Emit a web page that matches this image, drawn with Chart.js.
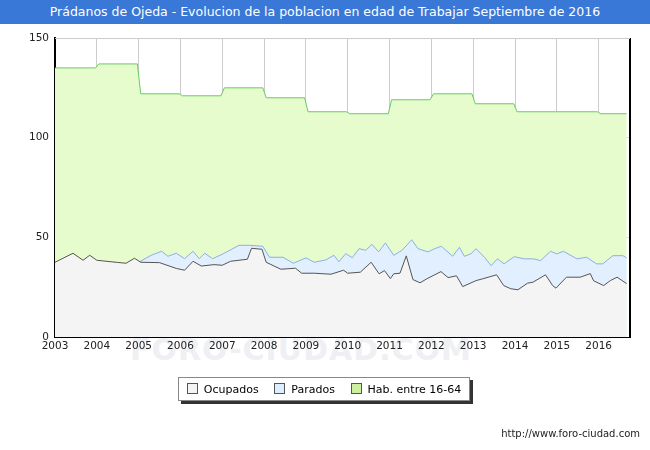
<!DOCTYPE html><html><head><meta charset="utf-8">
<script src="https://cdn.jsdelivr.net/npm/chart.js@4"></script>
<style>
body{margin:0;width:650px;height:450px;background:#fff;font-family:Verdana,"DejaVu Sans",sans-serif;position:relative;overflow:hidden}
#t{position:absolute;left:0;top:0;width:650px;height:24px;background:#3a78d8;color:#fff;font-size:12.5px;line-height:24px;text-align:center}
#c{position:absolute;left:0;top:0}
#wm{position:absolute;left:130px;top:332px;font-size:30px;color:#eef0f4;letter-spacing:1px;font-weight:bold}
#lg{position:absolute;left:178px;top:377px;width:290px;height:22px;border:1px solid #888;background:#fff;box-shadow:3px 3px 0 #333;font-size:11px;display:flex;align-items:center;justify-content:space-around}
.sw{display:inline-block;width:9px;height:9px;border:1px solid #555;margin-right:6px;vertical-align:-1px}
#u{position:absolute;right:10px;top:428px;font-size:10px;color:#222}
</style></head><body>
<div id="wm">FORO-CIUDAD.COM</div>
<canvas id="c" width="650" height="450"></canvas>
<div id="t">Prádanos de Ojeda - Evolucion de la poblacion en edad de Trabajar Septiembre de 2016</div>
<div id="lg"><span><span class="sw" style="background:#f4f4f4"></span>Ocupados</span><span><span class="sw" style="background:#ddeeff"></span>Parados</span><span><span class="sw" style="background:#ccf0a0"></span>Hab. entre 16-64</span></div>
<div id="u">http://www.foro-ciudad.com</div>
<script>
const ocuX=[2003.0,2003.43,2003.67,2003.83,2004.0,2004.5,2004.7,2004.9,2005.05,2005.5,2005.9,2006.1,2006.3,2006.5,2006.8,2007.0,2007.2,2007.6,2007.7,2007.95,2008.05,2008.4,2008.75,2008.9,2009.2,2009.6,2009.9,2010.0,2010.3,2010.56,2010.75,2010.88,2011.02,2011.1,2011.25,2011.4,2011.56,2011.73,2011.9,2012.23,2012.4,2012.6,2012.75,2013.07,2013.23,2013.56,2013.73,2013.9,2014.07,2014.3,2014.43,2014.73,2014.9,2014.98,2015.23,2015.56,2015.8,2015.88,2016.12,2016.28,2016.44,2016.67];
const ocuY=[37.5,42,38.5,41,38.5,37.4,37,39.5,37.5,37.3,34.4,33.5,38,35.6,36.3,36,38,39,44.5,44,37.5,34,34.5,32,32,31.5,33.5,32,32.5,37.5,31.7,33.3,29.3,31.7,32,40.7,28.8,27.2,29.3,32.8,29.8,30.7,25.3,28.3,29.2,31.2,25.8,24.2,23.7,27,27.5,31.2,25.8,24.5,30,30,31.8,28.2,25.8,28.3,30,26.8];
const parX=[2005.0,2005.3,2005.55,2005.7,2005.9,2006.1,2006.3,2006.45,2006.58,2006.77,2007.0,2007.4,2007.65,2007.97,2008.13,2008.45,2008.7,2009.0,2009.2,2009.48,2009.67,2009.79,2009.95,2010.11,2010.27,2010.43,2010.58,2010.74,2010.9,2011.1,2011.3,2011.53,2011.68,2011.92,2012.08,2012.24,2012.51,2012.67,2012.79,2012.95,2013.07,2013.27,2013.43,2013.58,2013.74,2013.98,2014.22,2014.45,2014.61,2014.85,2015.0,2015.16,2015.48,2015.71,2015.95,2016.1,2016.34,2016.58,2016.67];
const parY=[37.5,41,43,40.5,42,39.3,43,39.3,42,39.3,41.5,46,46,45.5,40,40,37,39.7,37.5,38.7,41,37.7,41.8,39.8,44.3,43.5,46.5,42.7,47.2,41,43.5,48.8,44.3,42.7,44.3,45.5,40.5,45,40.5,41.8,44.3,40,35.8,39.2,36.7,40.3,39.2,39.2,38.3,43,41.7,43,39.2,40,36.7,36.7,40.8,40.8,39.7];
const habX=[2003.0,2003.97,2004.05,2004.97,2005.05,2005.97,2006.05,2006.97,2007.05,2007.97,2008.05,2008.97,2009.05,2009.97,2010.05,2010.97,2011.05,2011.97,2012.05,2012.97,2013.05,2013.97,2014.05,2014.97,2015.05,2015.97,2016.05,2016.67];
const habY=[135,135,137,137,122,122,121,121,125,125,120,120,113,113,112,112,119,119,122,122,117,117,113,113,113,113,112,112];
const yearTicks=[2003,2004,2005,2006,2007,2008,2009,2010,2011,2012,2013,2014,2015,2016];
const pts=(xs,ys)=>xs.map((x,i)=>({x,y:ys[i]}));
new Chart(document.getElementById('c'),{type:'line',data:{datasets:[
{label:'Ocupados',data:pts(ocuX,ocuY),borderColor:'#555',backgroundColor:'#f4f4f4',fill:'origin',borderWidth:1,pointRadius:0,tension:0},
{label:'Parados',data:pts(parX,parY),borderColor:'#8ab0e8',backgroundColor:'#e2efff',fill:'origin',borderWidth:1,pointRadius:0,tension:0},
{label:'Hab',data:pts(habX,habY),borderColor:'#6c6',backgroundColor:'#e6fccc',fill:'origin',borderWidth:1,pointRadius:0,tension:0}]},
options:{animation:false,responsive:false,layout:{padding:{top:38,right:20,left:0,bottom:93}},
plugins:{legend:{display:false},tooltip:{enabled:false}},
scales:{x:{type:'linear',min:2003,max:2016.75,afterBuildTicks:a=>{a.ticks=yearTicks.map(v=>({value:v}))},
ticks:{autoSkip:false,maxRotation:0,color:'#222',font:{size:10.5,family:'Verdana, DejaVu Sans'},callback:v=>String(v)},
grid:{color:'#ccc',drawTicks:false},border:{color:'#000',width:1},afterFit:s=>{s.height=20}},
y:{min:0,max:150,ticks:{stepSize:50,color:'#222',font:{size:10.5,family:'Verdana, DejaVu Sans'},padding:6},grid:{color:'#ddd',drawTicks:false},border:{color:'#000',width:2},afterFit:s=>{s.width=55}}}},
plugins:[{id:'rb',afterDraw(c){const a=c.chartArea,x=c.ctx;x.save();x.strokeStyle='#000';x.lineWidth=2;x.beginPath();x.moveTo(a.right,a.top);x.lineTo(a.right,a.bottom);x.stroke();x.strokeStyle='#ccc';x.lineWidth=1;x.beginPath();x.moveTo(a.left,a.top+0.5);x.lineTo(a.right,a.top+0.5);x.stroke();x.restore();}}]});
</script></body></html>
